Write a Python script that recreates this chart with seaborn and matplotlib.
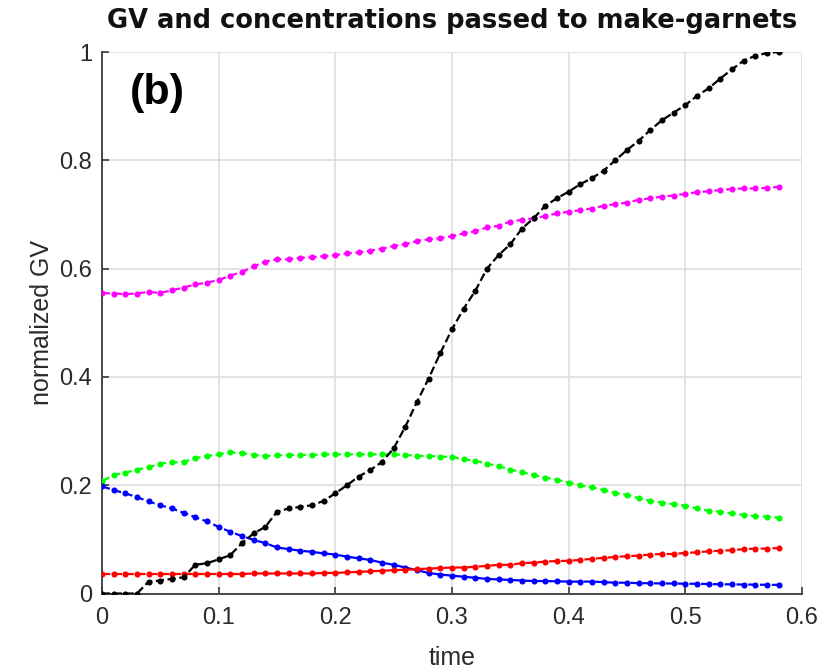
import numpy as np
import pandas as pd
import seaborn as sns
import matplotlib
matplotlib.use("Agg")
import matplotlib.pyplot as plt

# time steps
time = [round(0.01 * i, 2) for i in range(59)]

# normalized grey value
gv = [0.000, 0.000, 0.000, 0.000, 0.022, 0.024, 0.027, 0.030, 0.053, 0.056,
      0.063, 0.071, 0.093, 0.111, 0.123, 0.151, 0.157, 0.160, 0.163, 0.171,
      0.185, 0.200, 0.216, 0.228, 0.243, 0.268, 0.308, 0.354, 0.397, 0.444,
      0.488, 0.526, 0.559, 0.600, 0.625, 0.645, 0.674, 0.693, 0.716, 0.730,
      0.742, 0.756, 0.767, 0.781, 0.800, 0.819, 0.836, 0.856, 0.874, 0.888,
      0.902, 0.919, 0.933, 0.951, 0.968, 0.984, 0.993, 0.998, 1.000]

# concentrations
conc_m = [0.555, 0.554, 0.553, 0.554, 0.557, 0.555, 0.560, 0.565, 0.571, 0.574,
          0.579, 0.587, 0.594, 0.604, 0.613, 0.617, 0.617, 0.620, 0.621, 0.623,
          0.625, 0.628, 0.630, 0.633, 0.637, 0.642, 0.645, 0.651, 0.654, 0.656,
          0.660, 0.665, 0.669, 0.676, 0.679, 0.687, 0.690, 0.693, 0.697, 0.702,
          0.705, 0.708, 0.711, 0.716, 0.719, 0.722, 0.727, 0.730, 0.733, 0.735,
          0.738, 0.741, 0.743, 0.745, 0.747, 0.748, 0.748, 0.749, 0.751]

conc_g = [0.207, 0.219, 0.223, 0.229, 0.233, 0.240, 0.242, 0.243, 0.250, 0.254,
          0.257, 0.261, 0.259, 0.256, 0.254, 0.255, 0.256, 0.256, 0.256, 0.257,
          0.257, 0.257, 0.257, 0.257, 0.257, 0.257, 0.256, 0.254, 0.254, 0.253,
          0.252, 0.248, 0.245, 0.240, 0.235, 0.229, 0.224, 0.219, 0.214, 0.210,
          0.205, 0.200, 0.196, 0.191, 0.186, 0.182, 0.176, 0.171, 0.168, 0.165,
          0.162, 0.157, 0.153, 0.151, 0.148, 0.145, 0.143, 0.142, 0.140]

conc_b = [0.198, 0.191, 0.185, 0.178, 0.170, 0.163, 0.157, 0.149, 0.141, 0.133,
          0.123, 0.114, 0.106, 0.099, 0.093, 0.085, 0.082, 0.079, 0.077, 0.074,
          0.072, 0.068, 0.065, 0.062, 0.057, 0.053, 0.048, 0.043, 0.038, 0.035,
          0.033, 0.031, 0.029, 0.027, 0.026, 0.025, 0.024, 0.023, 0.023, 0.0225,
          0.022, 0.022, 0.022, 0.021, 0.020, 0.020, 0.019, 0.019, 0.0185, 0.0185,
          0.018, 0.018, 0.0175, 0.017, 0.017, 0.0165, 0.0165, 0.016, 0.016]

conc_r = [0.036, 0.036, 0.036, 0.036, 0.036, 0.036, 0.036, 0.036, 0.036, 0.036,
          0.036, 0.036, 0.036, 0.037, 0.037, 0.037, 0.037, 0.037, 0.037, 0.038,
          0.038, 0.039, 0.040, 0.041, 0.042, 0.043, 0.044, 0.045, 0.046, 0.047,
          0.048, 0.048, 0.0495, 0.051, 0.053, 0.053, 0.056, 0.057, 0.059, 0.060,
          0.0605, 0.062, 0.064, 0.066, 0.0675, 0.069, 0.070, 0.072, 0.073, 0.073,
          0.075, 0.076, 0.078, 0.079, 0.080, 0.082, 0.083, 0.083, 0.084]

x_ticks = [0, 0.1, 0.2, 0.3, 0.4, 0.5, 0.6]
x_tick_labels = ["0", "0.1", "0.2", "0.3", "0.4", "0.5", "0.6"]
y_ticks = [0, 0.2, 0.4, 0.6, 0.8, 1.0]
y_tick_labels = ["0", "0.2", "0.4", "0.6", "0.8", "1"]

sns.set_theme(style="white")
plt.rcParams["font.family"] = ["Liberation Sans", "DejaVu Sans"]

fig = plt.figure(figsize=(8.25, 6.72), dpi=100)
ax = fig.add_axes([0.1236, 0.1168, 0.8485, 0.8058])

series = [
    (conc_m, "#ff00ff"),
    (conc_g, "#00ff00"),
    (conc_b, "#0000ff"),
    (conc_r, "#ff0000"),
    (gv, "#000000"),
]
for vals, col in series:
    df = pd.DataFrame({"time": time, "value": vals})
    sns.lineplot(data=df, x="time", y="value", ax=ax, color=col,
                 linestyle="--", dashes=(3.5, 2.2), linewidth=1.6,
                 marker="o", markersize=4.4, markeredgewidth=0,
                 markerfacecolor=col, zorder=3)

ax.set_xlim(0, 0.6)
ax.set_ylim(0, 1)
ax.set_xticks(x_ticks)
ax.set_xticklabels(x_tick_labels)
ax.set_yticks(y_ticks)
ax.set_yticklabels(y_tick_labels)

narrow = ["Liberation Sans Narrow", "Liberation Sans", "DejaVu Sans"]
for lbl in ax.get_xticklabels() + ax.get_yticklabels():
    lbl.set_fontfamily(narrow)
    lbl.set_fontsize(17)
    lbl.set_color("#2a2a2a")

ax.grid(True, color="#dedede", linewidth=1.2)
ax.set_axisbelow(True)
for side in ["top", "right"]:
    ax.spines[side].set_visible(False)
for side in ["left", "bottom"]:
    ax.spines[side].set_color("#3a3a3a")
    ax.spines[side].set_linewidth(1.3)
ax.tick_params(axis="both", direction="in", length=5, width=1.2,
               color="#3a3a3a", pad=7, bottom=True, left=True)
ax.tick_params(axis="x", pad=10)

ax.set_xlabel("time", fontsize=18, color="#2a2a2a", family=narrow, labelpad=12)
ax.set_ylabel("normalized GV", fontsize=18, color="#2a2a2a", family=narrow, labelpad=4)
ax.set_title("GV and concentrations passed to make-garnets",
             fontsize=18.5, fontweight="bold", color="#111111", pad=17,
             family=["DejaVu Sans"])
ax.text(0.04, 0.962, "(b)", transform=ax.transAxes, fontsize=31,
        fontweight="bold", color="black", va="top", ha="left")

fig.savefig("out.png", dpi=100)
